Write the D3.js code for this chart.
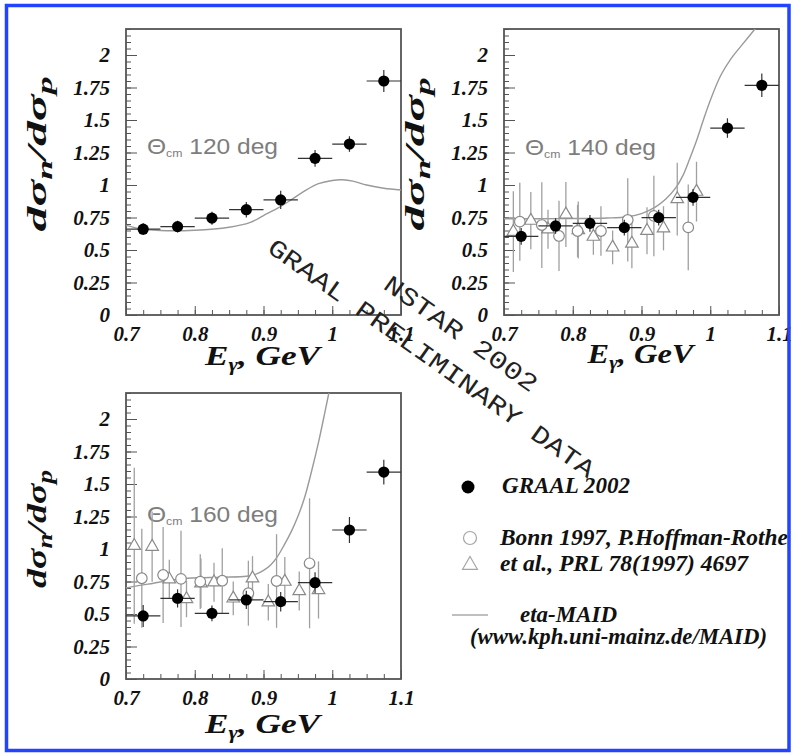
<!DOCTYPE html>
<html><head><meta charset="utf-8">
<script src="https://cdn.jsdelivr.net/npm/d3@7"></script>
<style>body{margin:0;background:#fff}svg{display:block}</style>
</head><body>
<svg id="c" width="796" height="754"></svg>
<script>
// ---- axes ----
const xTicks = [0.7, 0.8, 0.9, 1.0, 1.1];
const xTickLabels = ["0.7", "0.8", "0.9", "1", "1.1"];
const yTicks = [0, 0.25, 0.5, 0.75, 1, 1.25, 1.5, 1.75, 2];
const yTickLabels = ["0", "0.25", "0.5", "0.75", "1", "1.25", "1.5", "1.75", "2"];

// ---- GRAAL 2002 (bin centres, half-width 0.025 GeV) ----
const graalE = [0.725, 0.775, 0.825, 0.875, 0.925, 0.975, 1.025, 1.075];
const graal120 = [0.66, 0.68, 0.745, 0.81, 0.885, 1.205, 1.315, 1.80];
const graal120Err = [0.045, 0.045, 0.05, 0.06, 0.07, 0.065, 0.06, 0.085];
const graal140 = [0.605, 0.685, 0.705, 0.672, 0.749, 0.905, 1.438, 1.767];
const graal140Err = [0.065, 0.06, 0.065, 0.06, 0.06, 0.065, 0.075, 0.09];
const graal160 = [0.485, 0.62, 0.505, 0.608, 0.595, 0.741, 1.146, 1.592];
const graal160Err = [0.085, 0.07, 0.06, 0.07, 0.075, 0.08, 0.1, 0.095];

// ---- Bonn 1997, Hoffman-Rothe et al. (circles) ----
const bonnCircE140 = [0.723, 0.755, 0.780, 0.807, 0.841, 0.880, 0.918, 0.968];
const bonnCirc140 = [0.718, 0.692, 0.608, 0.646, 0.646, 0.731, 0.762, 0.674];
const bonnCirc140Err = [0.30, 0.33, 0.27, 0.20, 0.19, 0.32, 0.31, 0.33];
const bonnCircE160 = [0.723, 0.754, 0.780, 0.808, 0.840, 0.878, 0.919, 0.967];
const bonnCirc160 = [0.775, 0.80, 0.77, 0.749, 0.756, 0.66, 0.754, 0.89];
const bonnCirc160Err = [0.38, 0.37, 0.37, 0.21, 0.25, 0.25, 0.36, 0.5];

// ---- Bonn 1997, Hoffman-Rothe et al. (triangles) ----
const bonnTriE140 = [0.7136, 0.739, 0.764, 0.790, 0.808, 0.830, 0.858, 0.886, 0.908, 0.932, 0.952, 0.980];
const bonnTri140 = [0.641, 0.726, 0.659, 0.774, 0.654, 0.603, 0.52, 0.55, 0.648, 0.667, 0.892, 0.949];
const bonnTri140Err = [0.31, 0.22, 0.15, 0.25, 0.22, 0.14, 0.13, 0.19, 0.18, 0.17, 0.28, 0.23];
const bonnTriE160 = [0.712, 0.738, 0.763, 0.788, 0.809, 0.828, 0.856, 0.884, 0.907, 0.931, 0.952, 0.980];
const bonnTri160 = [1.025, 1.018, 0.767, 0.615, 0.736, 0.744, 0.62, 0.775, 0.59, 0.749, 0.677, 0.685];
const bonnTri160Err = [0.6, 0.27, 0.15, 0.14, 0.19, 0.15, 0.13, 0.17, 0.14, 0.19, 0.15, 0.22];

// ---- eta-MAID predictions ----
const maid120 = [[0.70,0.69],[0.72,0.665],[0.75,0.65],[0.80,0.652],[0.85,0.675],[0.88,0.71],[0.90,0.765],[0.92,0.82],[0.94,0.885],[0.96,0.955],[0.98,1.01],[1.00,1.035],[1.015,1.04],[1.03,1.03],[1.05,1.0],[1.075,0.975],[1.10,0.962]];
const maid140 = [[0.70,0.74],[0.75,0.74],[0.80,0.742],[0.85,0.746],[0.88,0.756],[0.90,0.78],[0.92,0.83],[0.935,0.89],[0.95,0.98],[0.96,1.07],[0.97,1.2],[0.98,1.34],[0.99,1.5],[1.0,1.65],[1.015,1.84],[1.03,1.97],[1.045,2.07],[1.065,2.2],[1.08,2.3]];
const maid160 = [[0.70,0.70],[0.72,0.72],[0.74,0.737],[0.76,0.755],[0.79,0.775],[0.84,0.783],[0.875,0.79],[0.89,0.808],[0.90,0.835],[0.91,0.875],[0.92,0.94],[0.93,1.03],[0.94,1.13],[0.95,1.25],[0.96,1.40],[0.97,1.60],[0.98,1.82],[0.99,2.07],[0.997,2.25]];

const zip = (E, v, e) => E.map((d, i) => ({E: d, v: v[i], err: e[i]}));

const W = 275, H = 286;
const panels = [
  {angle: "120", x0: 126, y0: 29, yTitleLen: 155, yTitleCy: 154, xTitleLen: 115, xTitleBase: 365, tx: 147, ty: 154,
   graal: zip(graalE, graal120, graal120Err), circ: [], tri: [], maid: maid120},
  {angle: "140", x0: 504, y0: 29, yTitleLen: 153, yTitleCy: 154, xTitleLen: 106, xTitleBase: 363, tx: 525, ty: 155,
   graal: zip(graalE, graal140, graal140Err), circ: zip(bonnCircE140, bonnCirc140, bonnCirc140Err),
   tri: zip(bonnTriE140, bonnTri140, bonnTri140Err), maid: maid140},
  {angle: "160", x0: 126, y0: 393, yTitleLen: 118, yTitleCy: 529, xTitleLen: 115, xTitleBase: 733, tx: 147, ty: 522,
   graal: zip(graalE, graal160, graal160Err), circ: zip(bonnCircE160, bonnCirc160, bonnCirc160Err),
   tri: zip(bonnTriE160, bonnTri160, bonnTri160Err), maid: maid160}
];

const svg = d3.select("#c");
svg.append("rect").attr("width", 796).attr("height", 754).attr("fill", "#fff");

const frameColor = "#555";
const grayMark = "#8a8a8a";
const grayBar = "#a0a0a0";

// bold italic Times-like text
function serif(sel, size) {
  return sel.style("font-family", "Liberation Serif").style("font-weight", "bold")
    .style("font-style", "italic").style("font-size", size + "px").attr("fill", "#111");
}

panels.forEach((p, pi) => {
  const x = d3.scaleLinear().domain([0.7, 1.1]).range([p.x0, p.x0 + W]);
  const y = d3.scaleLinear().domain([0, 2.2]).range([p.y0 + H, p.y0]);
  const g = svg.append("g");

  const clipId = "clip" + pi;
  g.append("clipPath").attr("id", clipId).append("rect")
    .attr("x", p.x0).attr("y", p.y0).attr("width", W).attr("height", H);

  // minor ticks
  const yMinor = d3.range(0, 2.2001, 0.05);
  const xMinor = d3.range(0.7, 1.1001, 0.025);
  g.append("g").attr("transform", `translate(${p.x0},0)`)
    .call(d3.axisLeft(y).tickValues(yMinor).tickFormat("").tickSizeInner(-5).tickSizeOuter(0))
    .call(s => s.select(".domain").remove())
    .selectAll("line").attr("stroke", frameColor);
  g.append("g").attr("transform", `translate(0,${p.y0 + H})`)
    .call(d3.axisBottom(x).tickValues(xMinor).tickFormat("").tickSizeInner(-5).tickSizeOuter(0))
    .call(s => s.select(".domain").remove())
    .selectAll("line").attr("stroke", frameColor);

  // major ticks with labels
  const ya = g.append("g").attr("transform", `translate(${p.x0},0)`)
    .call(d3.axisLeft(y).tickValues(yTicks).tickFormat((d, i) => yTickLabels[i])
      .tickSizeInner(-11).tickSizeOuter(0).tickPadding(16));
  ya.attr("font-family", null).attr("font-size", null);
  ya.select(".domain").remove();
  ya.selectAll("line").attr("stroke", frameColor);
  serif(ya.selectAll("text"), 21);

  const xa = g.append("g").attr("transform", `translate(0,${p.y0 + H})`)
    .call(d3.axisBottom(x).tickValues(xTicks).tickFormat((d, i) => xTickLabels[i])
      .tickSizeInner(-9).tickSizeOuter(0).tickPadding(11));
  xa.attr("font-family", null).attr("font-size", null);
  xa.select(".domain").remove();
  xa.selectAll("line").attr("stroke", frameColor);
  serif(xa.selectAll("text"), 21);

  // frame
  g.append("rect").attr("x", p.x0).attr("y", p.y0).attr("width", W).attr("height", H)
    .attr("fill", "none").attr("stroke", frameColor).attr("stroke-width", 1.8);

  // axis titles
  const yt = serif(g.append("text"), 28)
    .attr("transform", `translate(${p.x0 - 80},${p.yTitleCy}) rotate(-90)`)
    .attr("text-anchor", "middle")
    .attr("textLength", p.yTitleLen).attr("lengthAdjust", "spacingAndGlyphs");
  yt.append("tspan").text("dσ");
  yt.append("tspan").style("font-size", "20px").attr("dy", 6).text("n");
  yt.append("tspan").attr("dy", -6).text("/dσ");
  yt.append("tspan").style("font-size", "20px").attr("dy", 6).text("p");

  const xt = serif(g.append("text"), 28)
    .attr("x", p.x0 + W / 2 - 1).attr("y", p.xTitleBase)
    .attr("text-anchor", "middle")
    .attr("textLength", p.xTitleLen).attr("lengthAdjust", "spacingAndGlyphs");
  xt.append("tspan").text("E");
  xt.append("tspan").style("font-size", "18px").attr("dy", 6).text("γ");
  xt.append("tspan").attr("dy", -6).text(", GeV");

  // angle label
  const tl = g.append("text").attr("x", p.tx).attr("y", p.ty)
    .style("font-family", "Liberation Sans").style("font-size", "22px").attr("fill", "#7d7d7d")
    .attr("textLength", 131).attr("lengthAdjust", "spacingAndGlyphs");
  tl.append("tspan").text("Θ");
  tl.append("tspan").style("font-size", "11px").attr("dy", 3).text("cm");
  tl.append("tspan").attr("dy", -3).text(" " + p.angle + " deg");

  const plot = g.append("g").attr("clip-path", `url(#${clipId})`);

  // eta-MAID curve
  plot.append("path").datum(p.maid)
    .attr("d", d3.line().x(d => x(d[0])).y(d => y(d[1])).curve(d3.curveCatmullRom))
    .attr("fill", "none").attr("stroke", "#9a9a9a").attr("stroke-width", 1.4);

  // Bonn error bars + markers
  plot.selectAll(null).data(p.circ.concat(p.tri)).join("line")
    .attr("x1", d => x(d.E)).attr("x2", d => x(d.E))
    .attr("y1", d => y(d.v - d.err)).attr("y2", d => y(d.v + d.err))
    .attr("stroke", grayBar).attr("stroke-width", 1.3);
  plot.selectAll(null).data(p.tri).join("path")
    .attr("transform", d => `translate(${x(d.E)},${y(d.v)})`)
    .attr("d", d3.symbol().type(d3.symbolTriangle).size(68))
    .attr("fill", "#fff").attr("stroke", grayMark).attr("stroke-width", 1.2);
  plot.selectAll(null).data(p.circ).join("circle")
    .attr("cx", d => x(d.E)).attr("cy", d => y(d.v)).attr("r", 5.3)
    .attr("fill", "#fff").attr("stroke", grayMark).attr("stroke-width", 1.2);

  // GRAAL error bars + markers
  const gg = plot.selectAll(null).data(p.graal).join("g");
  gg.append("line").attr("x1", d => x(d.E - 0.025)).attr("x2", d => x(d.E + 0.025))
    .attr("y1", d => y(d.v)).attr("y2", d => y(d.v)).attr("stroke", "#333").attr("stroke-width", 1.2);
  gg.append("line").attr("x1", d => x(d.E)).attr("x2", d => x(d.E))
    .attr("y1", d => y(d.v - d.err)).attr("y2", d => y(d.v + d.err)).attr("stroke", "#333").attr("stroke-width", 1.2);
  gg.append("circle").attr("cx", d => x(d.E)).attr("cy", d => y(d.v)).attr("r", 5.6).attr("fill", "#000");
});

// diagonal stamp
const stamp = svg.append("g").attr("transform", "translate(266,251) rotate(35.3)");
const monoText = sel => sel.style("font-family", "Liberation Mono").style("font-size", "25px")
  .attr("fill", "#222").attr("lengthAdjust", "spacingAndGlyphs").attr("xml:space", "preserve");
monoText(stamp.append("text")).attr("x", 0).attr("y", 0).attr("textLength", 394)
  .text("GRAAL PRELIMINARY DATA");
monoText(stamp.append("text")).attr("x", 116).attr("y", -37).attr("textLength", 182)
  .text("NSTAR 2002");

// legend
const leg = svg.append("g");
const legText = (tx, ty, len, s) => serif(leg.append("text"), 23).attr("x", tx).attr("y", ty)
  .attr("textLength", len).attr("lengthAdjust", "spacingAndGlyphs").text(s);
leg.append("circle").attr("cx", 468).attr("cy", 487).attr("r", 6.5).attr("fill", "#000");
legText(502, 493, 128, "GRAAL 2002");
leg.append("circle").attr("cx", 470).attr("cy", 538).attr("r", 6.5)
  .attr("fill", "#fff").attr("stroke", "#a5a5a5").attr("stroke-width", 1.2);
legText(500, 545, 288, "Bonn 1997, P.Hoffman-Rothe");
leg.append("path").attr("transform", "translate(470,565)")
  .attr("d", d3.symbol().type(d3.symbolTriangle).size(95))
  .attr("fill", "#fff").attr("stroke", "#a5a5a5").attr("stroke-width", 1.2);
legText(500, 571, 248, "et al., PRL 78(1997) 4697");
leg.append("line").attr("x1", 452).attr("x2", 488).attr("y1", 615).attr("y2", 615)
  .attr("stroke", "#aaa").attr("stroke-width", 1.4);
legText(520, 622, 97, "eta-MAID");
legText(470, 644, 297, "(www.kph.uni-mainz.de/MAID)");

// page border
svg.append("rect").attr("x", 6.5).attr("y", 5.5).attr("width", 782.5).attr("height", 745)
  .attr("fill", "none").attr("stroke", "#2344ff").attr("stroke-width", 3.5);
</script>
</body></html>
